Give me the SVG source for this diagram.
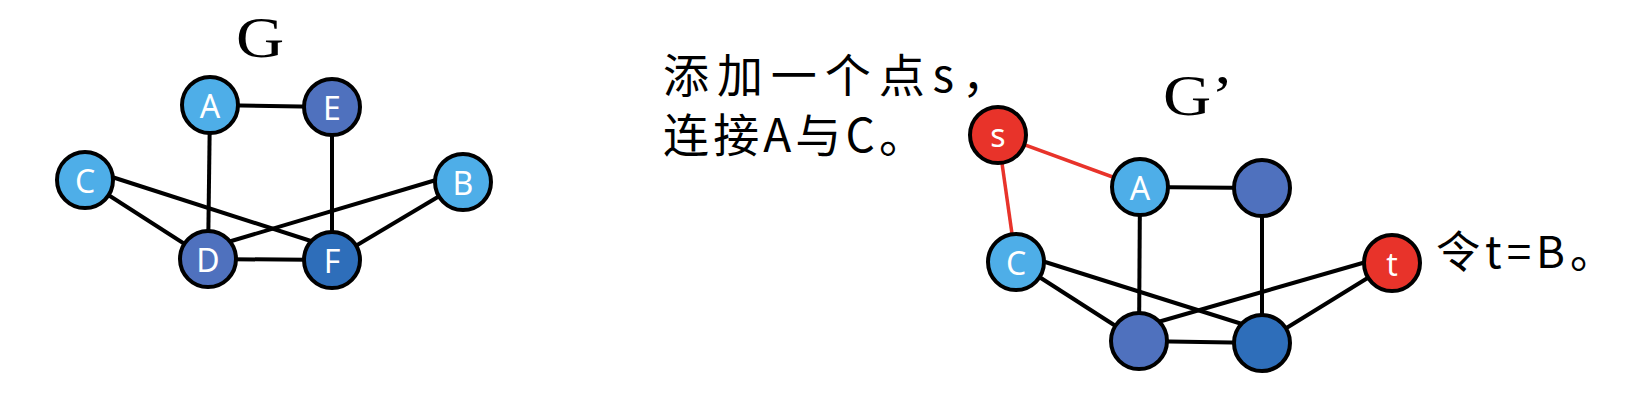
<svg xmlns="http://www.w3.org/2000/svg" width="1630" height="412" viewBox="0 0 1630 412">
<style>
.e{stroke:#000;stroke-width:4;fill:none}
.r{stroke:#E8332A;stroke-width:3.5;fill:none}
.n{stroke:#000;stroke-width:4}
.lb{fill:#4EAEE8}
.pb{fill:#4F71BE}
.db{fill:#2E6EBA}
.rd{fill:#E8332A}
.t{font-family:"Noto Sans","Noto Sans CJK SC",sans-serif;font-size:32px;fill:#fff;text-anchor:middle}
.cap{font-family:"Liberation Serif",serif;fill:#000}
.cn{font-family:"Noto Sans CJK SC","Noto Sans",sans-serif;fill:#000}
</style>
<rect width="1630" height="412" fill="#fff"/>
<g id="connectors">
<line class="e" x1="210" y1="105" x2="332" y2="107"/>
<line class="e" x1="210" y1="105" x2="208" y2="259"/>
<line class="e" x1="332" y1="107" x2="332" y2="260"/>
<line class="e" x1="85" y1="180" x2="208" y2="259"/>
<line class="e" x1="112" y1="177" x2="314" y2="242"/>
<line class="e" x1="436" y1="180" x2="228" y2="242"/>
<line class="e" x1="463" y1="182" x2="332" y2="260"/>
<line class="e" x1="208" y1="259" x2="332" y2="260"/>
<line class="r" x1="998" y1="135" x2="1140" y2="187"/>
<line class="r" x1="998" y1="135" x2="1016" y2="262"/>
<line class="e" x1="1140" y1="187" x2="1262" y2="188"/>
<line class="e" x1="1140" y1="187" x2="1139" y2="341"/>
<line class="e" x1="1262" y1="188" x2="1262" y2="343"/>
<line class="e" x1="1016" y1="262" x2="1139" y2="341"/>
<line class="e" x1="1042" y1="261" x2="1242" y2="324"/>
<line class="e" x1="1366" y1="262" x2="1158" y2="322"/>
<line class="e" x1="1392" y1="263" x2="1262" y2="343"/>
<line class="e" x1="1139" y1="341" x2="1262" y2="343"/>
</g>
<g id="label-G"><text class="cap" transform="translate(236 57) scale(1.17 1)" font-size="57">G</text></g>
<g id="label-Gp"><text class="cap" transform="translate(1163 115) scale(1.15 1)" font-size="58">G’</text></g>
<g id="note-s"><text class="cn" font-size="46"><tspan x="663" y="92" textLength="345" lengthAdjust="spacing">添加一个点s，</tspan><tspan x="663" y="152" textLength="262" lengthAdjust="spacing">连接A与C。</tspan></text></g>
<g id="note-t"><text class="cn" font-size="44" x="1436" y="268" textLength="178" lengthAdjust="spacing">令t=B。</text></g>
<g id="A"><circle class="n lb" cx="210" cy="105" r="28"/><text class="t" x="210" y="118">A</text></g>
<g id="E"><circle class="n pb" cx="332" cy="107" r="28"/><text class="t" x="332" y="120">E</text></g>
<g id="C"><circle class="n lb" cx="85" cy="180" r="28"/><text class="t" x="85" y="193">C</text></g>
<g id="B"><circle class="n lb" cx="463" cy="182" r="28"/><text class="t" x="463" y="195">B</text></g>
<g id="D"><circle class="n pb" cx="208" cy="259" r="28"/><text class="t" x="208" y="272">D</text></g>
<g id="F"><circle class="n db" cx="332" cy="260" r="28"/><text class="t" x="332" y="273">F</text></g>
<g id="s"><circle class="n rd" cx="998" cy="135" r="28"/><text class="t" x="998" y="147">s</text></g>
<g id="A2"><circle class="n lb" cx="1140" cy="187" r="28"/><text class="t" x="1140" y="200">A</text></g>
<g id="E2"><circle class="n pb" cx="1262" cy="188" r="28"/></g>
<g id="C2"><circle class="n lb" cx="1016" cy="262" r="28"/><text class="t" x="1016" y="275">C</text></g>
<g id="t"><circle class="n rd" cx="1392" cy="263" r="28"/><text class="t" x="1392" y="276">t</text></g>
<g id="D2"><circle class="n pb" cx="1139" cy="341" r="28"/></g>
<g id="F2"><circle class="n db" cx="1262" cy="343" r="28"/></g>
</svg>
